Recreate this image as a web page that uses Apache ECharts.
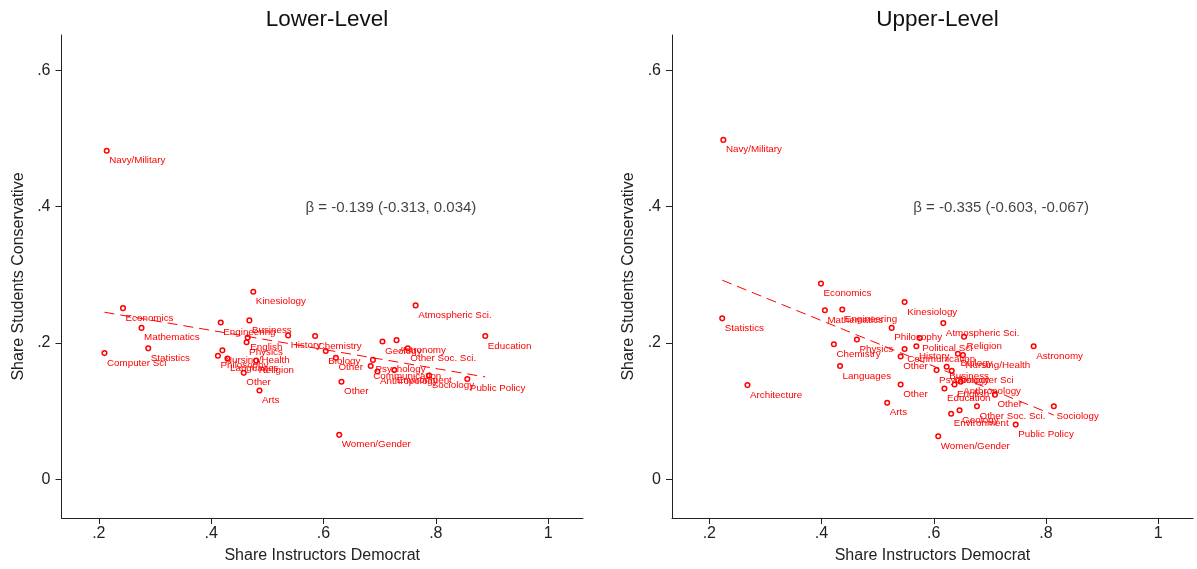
<!DOCTYPE html>
<html>
<head>
<meta charset="utf-8">
<script src="https://cdn.jsdelivr.net/npm/echarts@6/dist/echarts.min.js"></script>
<style>
html,body{margin:0;padding:0;background:#fff;}
#chart{width:1197px;height:569px;}
</style>
</head>
<body>
<div id="chart"></div>
<script>
// ---------- data ----------
const panelTitles = ['Lower-Level', 'Upper-Level'];
const xTickValues = [0.2, 0.4, 0.6, 0.8, 1];
const xTickLabels = ['.2', '.4', '.6', '.8', '1'];
const yTickValues = [0, 0.2, 0.4, 0.6];
const yTickLabels = ['0', '.2', '.4', '.6'];
const xTitle = 'Share Instructors Democrat';
const yTitle = 'Share Students Conservative';

const lowerNames = ['Navy/Military','Economics','Mathematics','Statistics','Computer Sci','Kinesiology','Engineering','Business','English','Physics','History','Chemistry','Philosophy','Nursing/Health','Languages','Religion','Other','Arts','Biology','Other','Other','Atmospheric Sci.','Education','Geology','Astronomy','Other Soc. Sci.','Psychology','Communication','Anthropology','Environment','Sociology','Public Policy','Women/Gender'];
const lowerX = [0.214,0.243,0.276,0.288,0.210,0.475,0.417,0.468,0.465,0.463,0.537,0.585,0.412,0.420,0.429,0.480,0.458,0.486,0.604,0.622,0.632,0.764,0.888,0.705,0.730,0.750,0.688,0.684,0.696,0.726,0.788,0.856,0.628];
const lowerY = [0.482,0.251,0.222,0.192,0.185,0.275,0.230,0.233,0.208,0.201,0.211,0.210,0.181,0.189,0.177,0.174,0.156,0.130,0.188,0.178,0.143,0.255,0.210,0.202,0.204,0.192,0.175,0.166,0.158,0.160,0.152,0.147,0.065];
const lowerFitX = [0.210, 0.888];
const lowerFitY = [0.245, 0.150];

const upperNames = ['Navy/Military','Economics','Statistics','Mathematics','Engineering','Kinesiology','Philosophy','Atmospheric Sci.','Political Sci','History','Communication','Other','Physics','Chemistry','Languages','Architecture','Other','Arts','Religion','Biology','Nursing/Health','Astronomy','Psychology','Business','Computer Sci','Anthropology','English','Education','Other','Other Soc. Sci.','Sociology','Geology','Environment','Public Policy','Women/Gender'];
const upperX = [0.225,0.399,0.223,0.406,0.437,0.548,0.525,0.617,0.575,0.569,0.548,0.541,0.463,0.422,0.433,0.268,0.541,0.517,0.654,0.643,0.652,0.778,0.605,0.623,0.632,0.648,0.637,0.619,0.709,0.677,0.814,0.646,0.631,0.746,0.608];
const upperY = [0.498,0.287,0.236,0.248,0.249,0.260,0.222,0.229,0.207,0.195,0.191,0.180,0.205,0.198,0.166,0.138,0.139,0.112,0.209,0.184,0.182,0.195,0.160,0.165,0.159,0.143,0.139,0.133,0.124,0.107,0.107,0.101,0.096,0.080,0.063];
const upperFitX = [0.223, 0.814];
const upperFitY = [0.292, 0.094];

const betaTexts = ['β = -0.139 (-0.313, 0.034)', 'β = -0.335 (-0.603, -0.067)'];
const betaPosX = [0.72, 0.72];
const betaPosY = [0.398, 0.398];

// ---------- chart ----------
const FONT = '"Liberation Sans", Arial, Helvetica, sans-serif';
const RED = '#ff0000';
const AXIS = '#222222';
const chart = echarts.init(document.getElementById('chart'), null, {renderer: 'canvas'});

const grids = [
  {left: 61.5, right: 614, top: 35, bottom: 50},
  {left: 672, right: 4, top: 35, bottom: 50}
];

function xAxis(i) {
  return {
    type: 'value', gridIndex: i, min: 0.1335, max: 1.062,
    name: xTitle, nameLocation: 'middle', nameGap: 30,
    nameTextStyle: {fontFamily: FONT, fontSize: 16, color: AXIS},
    axisLine: {show: true, onZero: false, lineStyle: {color: AXIS, width: 1}},
    axisTick: {show: true, inside: false, length: 6, customValues: xTickValues, lineStyle: {color: AXIS}},
    axisLabel: {show: true, margin: 8, customValues: xTickValues, fontFamily: FONT, fontSize: 16, color: AXIS,
      formatter: v => xTickLabels[xTickValues.findIndex(t => Math.abs(t - v) < 1e-9)] || ''},
    splitLine: {show: false}
  };
}
function yAxis(i) {
  return {
    type: 'value', gridIndex: i, min: -0.0571, max: 0.652,
    name: yTitle, nameLocation: 'middle', nameGap: 35, nameRotate: 90,
    nameTextStyle: {fontFamily: FONT, fontSize: 16, color: AXIS},
    axisLine: {show: true, onZero: false, lineStyle: {color: AXIS, width: 1}},
    axisTick: {show: true, inside: false, length: 6, customValues: yTickValues, lineStyle: {color: AXIS}},
    axisLabel: {show: true, margin: 11, customValues: yTickValues, fontFamily: FONT, fontSize: 16, color: AXIS,
      formatter: v => yTickLabels[yTickValues.findIndex(t => Math.abs(t - v) < 1e-9)] || ''},
    splitLine: {show: false}
  };
}

function pointSeries(i, names, xs, ys) {
  return {
    type: 'scatter', xAxisIndex: i, yAxisIndex: i,
    data: xs.map((x, k) => ({value: [x, ys[k]], name: names[k]})),
    symbol: 'circle', symbolSize: 4.6,
    itemStyle: {color: 'rgba(0,0,0,0)', borderColor: RED, borderWidth: 1.5, opacity: 1},
    label: {show: true, position: 'right', distance: 0, offset: [-0.5, 9.8],
      formatter: p => p.name, fontFamily: FONT, fontSize: 9.8, color: RED},
    emphasis: {disabled: true}, z: 3
  };
}
function fitSeries(i, xs, ys) {
  return {
    type: 'line', xAxisIndex: i, yAxisIndex: i,
    data: xs.map((x, k) => [x, ys[k]]),
    symbol: 'none', lineStyle: {color: RED, width: 1, type: [10, 6]},
    emphasis: {disabled: true}, z: 2
  };
}
function betaSeries(i) {
  return {
    type: 'scatter', xAxisIndex: i, yAxisIndex: i,
    data: [{value: [betaPosX[i], betaPosY[i]], name: betaTexts[i]}],
    symbol: 'circle', symbolSize: 2,
    itemStyle: {color: 'rgba(0,0,0,0)'},
    label: {show: true, position: 'inside', formatter: p => p.name, fontFamily: FONT, fontSize: 15, color: '#111'},
    emphasis: {disabled: true}, z: 4
  };
}

chart.setOption({
  animation: false,
  backgroundColor: '#ffffff',
  title: panelTitles.map((t, i) => ({
    text: t, left: i === 0 ? 322 : 932.5, top: 3, textAlign: 'center',
    textStyle: {fontFamily: FONT, fontSize: 22.5, fontWeight: 'normal', color: '#111'}
  })),
  grid: grids,
  xAxis: [xAxis(0), xAxis(1)],
  yAxis: [yAxis(0), yAxis(1)],
  series: [
    fitSeries(0, lowerFitX, lowerFitY),
    pointSeries(0, lowerNames, lowerX, lowerY),
    betaSeries(0),
    fitSeries(1, upperFitX, upperFitY),
    pointSeries(1, upperNames, upperX, upperY),
    betaSeries(1)
  ]
});
</script>
</body>
</html>
